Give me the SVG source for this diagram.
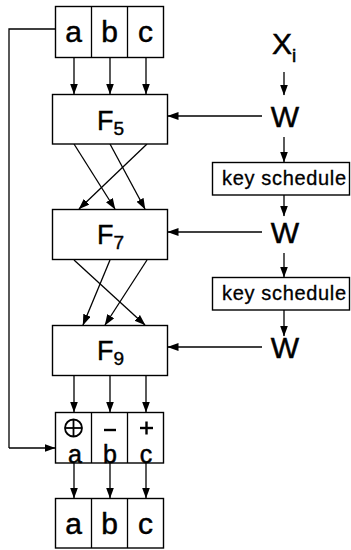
<svg xmlns="http://www.w3.org/2000/svg" width="351" height="550" viewBox="0 0 351 550">
<defs>
<marker id="ah" markerUnits="userSpaceOnUse" markerWidth="11" markerHeight="9" refX="10.5" refY="4" orient="auto">
<path d="M0,0 L11,4 L0,8 Z" fill="#000"/>
</marker>
<style>
.box{fill:#fff;stroke:#000;stroke-width:1.4}
.ln{fill:none;stroke:#000;stroke-width:1.3}
.arr{fill:none;stroke:#000;stroke-width:1.3;marker-end:url(#ah)}
.big{font-family:"Liberation Sans",Arial,sans-serif;font-size:30px;fill:#000;stroke:#000;stroke-width:0.5}
.f{font-family:"Liberation Sans",Arial,sans-serif;font-size:27px;fill:#000;stroke:#000;stroke-width:0.4}
.sub{font-size:19px}
.ks{font-family:"Liberation Sans",Arial,sans-serif;font-size:20px;fill:#000;stroke:#000;stroke-width:0.3}
</style>
</defs>
<rect width="351" height="550" fill="#fff"/>

<g id="connectors">
<path class="ln" d="M55,29 H9 V448"/>
<path class="arr" d="M9,448 H55"/>
<path class="arr" d="M74,58 V94"/>
<path class="arr" d="M110,58 V94"/>
<path class="arr" d="M146,58 V94"/>
<path class="arr" d="M74,144 L115,209"/>
<path class="arr" d="M110,144 L145,209"/>
<path class="arr" d="M147,144 L79,209"/>
<path class="arr" d="M74,260 L145,325"/>
<path class="arr" d="M110,260 L83,325"/>
<path class="arr" d="M147,260 L105,325"/>
<path class="arr" d="M74,376 V412"/>
<path class="arr" d="M110,376 V412"/>
<path class="arr" d="M146,376 V412"/>
<path class="arr" d="M74,463 V498"/>
<path class="arr" d="M110,463 V498"/>
<path class="arr" d="M146,463 V498"/>
<path class="arr" d="M284,72 V95"/>
<path class="arr" d="M284,137 V162"/>
<path class="arr" d="M284,195 V216"/>
<path class="arr" d="M284,253 V277"/>
<path class="arr" d="M284,310 V336"/>
<path class="arr" d="M262,116 H168"/>
<path class="arr" d="M262,232 H168"/>
<path class="arr" d="M262,347 H168"/>
</g>

<g id="input">
<rect class="box" x="55.5" y="6.5" width="108" height="51"/>
<line class="ln" x1="91.5" y1="6.5" x2="91.5" y2="57.5"/>
<line class="ln" x1="127.5" y1="6.5" x2="127.5" y2="57.5"/>
<text class="big" x="73.5" y="42" text-anchor="middle">a</text>
<text class="big" x="109.5" y="42" text-anchor="middle">b</text>
<text class="big" x="145.5" y="42" text-anchor="middle">c</text>
</g>

<g id="F5">
<rect class="box" x="52.5" y="94.5" width="115" height="49.5"/>
<text class="f" x="97" y="130">F<tspan class="sub" dy="5">5</tspan></text>
</g>
<g id="F7">
<rect class="box" x="52.5" y="209.5" width="115" height="50"/>
<text class="f" x="97" y="244">F<tspan class="sub" dy="5">7</tspan></text>
</g>
<g id="F9">
<rect class="box" x="52.5" y="325.5" width="115" height="50"/>
<text class="f" x="97" y="360">F<tspan class="sub" dy="5">9</tspan></text>
</g>

<g id="Xi">
<text class="big" x="272" y="54">X<tspan class="sub" dy="8">i</tspan></text>
</g>
<g id="W1"><text class="big" x="285" y="127" text-anchor="middle">W</text></g>
<g id="ks1">
<rect class="box" x="212.5" y="162.5" width="137" height="32.5"/>
<text class="ks" x="284" y="185" text-anchor="middle" textLength="124">key schedule</text>
</g>
<g id="W2"><text class="big" x="285" y="243" text-anchor="middle">W</text></g>
<g id="ks2">
<rect class="box" x="212.5" y="277.5" width="137" height="32.5"/>
<text class="ks" x="284" y="300" text-anchor="middle" textLength="124">key schedule</text>
</g>
<g id="W3"><text class="big" x="285" y="358" text-anchor="middle">W</text></g>

<g id="ops">
<rect class="box" x="55.5" y="412.5" width="108" height="50.5"/>
<line class="ln" x1="91.5" y1="412.5" x2="91.5" y2="463"/>
<line class="ln" x1="127.5" y1="412.5" x2="127.5" y2="463"/>
<circle cx="73.5" cy="428" r="8.5" fill="none" stroke="#000" stroke-width="1.8"/>
<line x1="65" y1="428" x2="82" y2="428" stroke="#000" stroke-width="1.8"/>
<line x1="73.5" y1="419.5" x2="73.5" y2="436.5" stroke="#000" stroke-width="1.8"/>
<line x1="104" y1="430" x2="116" y2="430" stroke="#000" stroke-width="2.4"/>
<line x1="140" y1="428" x2="153" y2="428" stroke="#000" stroke-width="2.4"/>
<line x1="146.5" y1="421.5" x2="146.5" y2="434.5" stroke="#000" stroke-width="2.4"/>
<text class="big" x="75" y="463" text-anchor="middle" style="font-size:25px">a</text>
<text class="big" x="110" y="463" text-anchor="middle" style="font-size:25px">b</text>
<text class="big" x="146" y="463" text-anchor="middle" style="font-size:25px">c</text>
</g>

<g id="output">
<rect class="box" x="55.5" y="498.5" width="108" height="49.5"/>
<line class="ln" x1="91.5" y1="498.5" x2="91.5" y2="548"/>
<line class="ln" x1="127.5" y1="498.5" x2="127.5" y2="548"/>
<text class="big" x="73.5" y="534" text-anchor="middle">a</text>
<text class="big" x="109.5" y="534" text-anchor="middle">b</text>
<text class="big" x="145.5" y="534" text-anchor="middle">c</text>
</g>
</svg>
